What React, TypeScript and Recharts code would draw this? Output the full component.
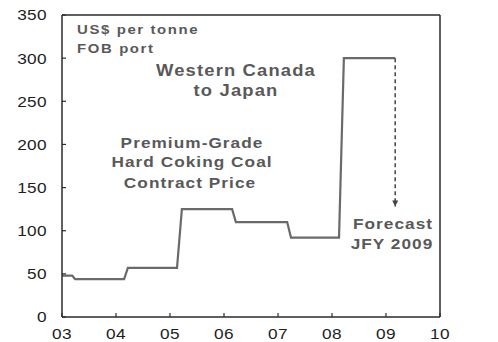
import { Line, LineChart, ReferenceLine, XAxis, YAxis } from 'recharts'

// contract price steps, US$ per tonne (x = year, fractional for mid-year changes)
const years = [2003.0, 2003.19, 2003.24, 2004.15, 2004.22, 2005.13, 2005.22, 2006.15, 2006.22, 2007.17, 2007.24, 2008.13, 2008.22, 2009.17]
const prices = [48, 48, 44, 44, 57, 57, 125, 125, 110, 110, 92, 92, 300, 300]

// JFY 2009 forecast drop
const forecastYears = [2009.17, 2009.17]
const forecastPrices = [300, 128]

const xTicks = [2003, 2004, 2005, 2006, 2007, 2008, 2009, 2010]
const yTicks = [0, 50, 100, 150, 200, 250, 300, 350]

const mainData = years.map((year, i) => ({ year, price: prices[i] }))
const forecastData = forecastYears.map((year, i) => ({ year, price: forecastPrices[i] }))

const AXIS = '#2b2b2b'
const FONT = '"Liberation Sans", Arial, sans-serif'
const NOTE = '#595959'
const STRETCH = 1.15

const tickText = { fontFamily: FONT, fontSize: 15, letterSpacing: 0.3, fill: '#1e1e1e' }

// horizontally stretched label, anchored at (x, y) baseline
function Wide({ x, y, size = 15, anchor = 'start', weight = 400, fill = NOTE, spacing = 0.6, children }: any) {
  return (
    <text
      transform={`translate(${x},${y}) scale(${STRETCH},1)`}
      fontFamily={FONT}
      fontSize={size}
      fontWeight={weight}
      fill={fill}
      letterSpacing={spacing}
      textAnchor={anchor}
    >
      {children}
    </text>
  )
}

function LeftTick({ x, y, payload }: any) {
  return (
    <g>
      <line x1={x + 15} x2={x + 19} y1={y} y2={y} stroke={AXIS} strokeWidth={1.2} />
      <text transform={`translate(${x},${y}) scale(${STRETCH},1)`} dy="0.36em" textAnchor="end" {...tickText}>{payload.value}</text>
    </g>
  )
}

function RightTick({ x, y, payload }: any) {
  return (
    <g>
      <line x1={x - 15} x2={x - 20} y1={y} y2={y} stroke={AXIS} strokeWidth={1.2} />
      <text transform={`translate(${x},${y}) scale(${STRETCH},1)`} dy="0.36em" textAnchor="start" {...tickText}>{payload.value}</text>
    </g>
  )
}

function BottomTick({ x, y, payload }: any) {
  return (
    <g>
      <line x1={x} x2={x} y1={y - 11} y2={y - 15} stroke={AXIS} strokeWidth={1.2} />
      <text transform={`translate(${x},${y}) scale(${STRETCH},1)`} dy="0.72em" textAnchor="middle" {...tickText}>{String(payload.value).slice(2)}</text>
    </g>
  )
}

function ArrowDot({ cx, cy, index }: any) {
  if (index !== 1) return <g key={`d${index}`} />
  return <polygon key={`d${index}`} points={`${cx - 3},${cy - 6} ${cx + 3},${cy - 6} ${cx},${cy}`} fill="#444" />
}

export default function App() {
  return (
    <div style={{ position: 'absolute', left: 0, top: 0, width: 498, height: 342, background: '#fff' }}>
      <LineChart width={498} height={342} margin={{ top: 15, right: 0, bottom: 0, left: 0 }}>
        <XAxis
          dataKey="year"
          type="number"
          domain={[2003, 2010]}
          ticks={xTicks}
          height={25}
          tickSize={0}
          tickMargin={11}
          axisLine={{ stroke: AXIS, strokeWidth: 1.5 }}
          tick={<BottomTick />}
          allowDuplicatedCategory={false}
        />
        <YAxis
          yAxisId="left"
          domain={[0, 350]}
          ticks={yTicks}
          width={62}
          tickSize={0}
          tickMargin={15}
          axisLine={{ stroke: AXIS, strokeWidth: 1.5 }}
          tick={<LeftTick />}
        />
        <YAxis
          yAxisId="right"
          orientation="right"
          domain={[0, 350]}
          ticks={yTicks}
          width={58}
          tickSize={0}
          tickMargin={15}
          axisLine={{ stroke: AXIS, strokeWidth: 1.5 }}
          tick={<RightTick />}
        />
        <ReferenceLine yAxisId="left" y={350} stroke={AXIS} strokeWidth={1.5} />
        <Line
          yAxisId="left"
          data={mainData}
          dataKey="price"
          type="linear"
          stroke="#6a6a6a"
          strokeWidth={2.2}
          dot={false}
          isAnimationActive={false}
        />
        <Line
          yAxisId="left"
          data={forecastData}
          dataKey="price"
          type="linear"
          stroke="#444"
          strokeWidth={1.5}
          strokeDasharray="4 3"
          dot={<ArrowDot />}
          isAnimationActive={false}
        />

        <Wide x={77} y={34} size={13} weight={700} spacing={1.4}>US$ per tonne</Wide>
        <Wide x={77} y={53} size={13} weight={700} spacing={1.4}>FOB port</Wide>

        <Wide x={236} y={76} size={16} weight={700} spacing={1} anchor="middle">Western Canada</Wide>
        <Wide x={236} y={96} size={16} weight={700} spacing={1} anchor="middle">to Japan</Wide>

        <Wide x={192} y={148} size={15} weight={700} spacing={0.9} anchor="middle">Premium-Grade</Wide>
        <Wide x={192} y={167} size={15} weight={700} spacing={0.9} anchor="middle">Hard Coking Coal</Wide>
        <Wide x={190} y={188} size={15} weight={700} spacing={0.9} anchor="middle">Contract Price</Wide>

        <Wide x={393} y={229} size={15} weight={700} spacing={0.9} anchor="middle">Forecast</Wide>
        <Wide x={392} y={249} size={15} weight={700} spacing={0.9} anchor="middle">JFY 2009</Wide>
      </LineChart>
    </div>
  )
}
